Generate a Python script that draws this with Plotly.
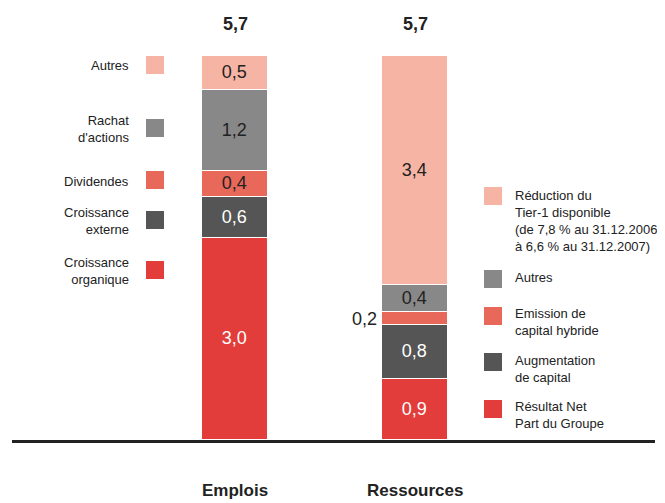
import plotly.graph_objects as go

categories = ["Emplois", "Ressources"]
emplois = [3.0, 0.6, 0.4, 1.2, 0.5]
ressources = [0.9, 0.8, 0.2, 0.4, 3.4]
totals = [5.7, 5.7]
layer_colors = ["#E23D3A", "#545554", "#E8685A", "#888888", "#F6B5A4"]
text_colors = ["white", "white", "#222222", "#222222", "#222222"]
emplois_labels = [["Croissance", "organique"], ["Croissance", "externe"], ["Dividendes"],
                  ["Rachat", "d'actions"], ["Autres"]]
ressources_labels = [["Résultat Net", "Part du Groupe"], ["Augmentation", "de capital"],
                     ["Emission de", "capital hybride"], ["Autres"],
                     ["Réduction du", "Tier-1 disponible", "(de 7,8 % au 31.12.2006",
                      "à 6,6 % au 31.12.2007)"]]

FONT = "Liberation Sans, Arial, Helvetica, sans-serif"
# page body has an 8px margin: figure drawn from (8, 8)
OFF = 8
W, H = 665 - OFF, 503 - OFF
PLOT_L, PLOT_R, PLOT_T, PLOT_B = 12, 655, 56, 440  # plot area in page pixels
L, R, T, B = PLOT_L - OFF, 665 - PLOT_R, PLOT_T - OFF, 503 - PLOT_B
PW, PH = PLOT_R - PLOT_L, PLOT_B - PLOT_T


def px(xp):
    return (xp - PLOT_L) / PW


def py(yp):
    return (PLOT_B - yp) / PH


def fmt(v):
    return f"{v:.1f}".replace(".", ",")


fig = go.Figure()
for i in range(5):
    vals = [emplois[i], ressources[i]]
    texts = [fmt(v) if v >= 0.3 else "" for v in vals]
    fig.add_trace(go.Bar(
        x=categories, y=vals, text=texts, textposition="inside",
        insidetextanchor="middle", textangle=0,
        textfont=dict(color=text_colors[i], size=18, family=FONT),
        marker=dict(color=layer_colors[i], line=dict(color="white", width=1.5)),
        width=0.367, showlegend=False, hoverinfo="skip", cliponaxis=False,
    ))

annotations = []
for c, t in zip(categories, totals):
    annotations.append(dict(x=c, y=t, xref="x", yref="y", text=f"<b>{fmt(t)}</b>",
                            showarrow=False, yshift=32, font=dict(size=18, family=FONT, color="#222")))
    annotations.append(dict(x=c, y=py(502), xref="x", yref="paper", text=f"<b>{c}</b>",
                            showarrow=False, yanchor="bottom",
                            font=dict(size=17, family=FONT, color="#222")))

for i, v in enumerate(ressources):
    if v < 0.3:
        mid = sum(ressources[:i]) + v / 2
        annotations.append(dict(x=categories[1], y=mid, xref="x", yref="y", text=fmt(v),
                                showarrow=False, xanchor="right", xshift=-36,
                                font=dict(size=18, family=FONT, color="#222")))

shapes = []
left_sq_y = [270, 220, 180, 128, 65]
for i in range(5):
    yc = left_sq_y[i]
    shapes.append(dict(type="rect", xref="paper", yref="paper",
                       x0=px(146), x1=px(164), y0=py(yc + 9), y1=py(yc - 9),
                       fillcolor=layer_colors[i], line=dict(width=0)))
    annotations.append(dict(x=px(131), y=py(yc + 1), xref="paper", yref="paper",
                            text="<br>".join(emplois_labels[i]), showarrow=False,
                            xanchor="right", yanchor="middle", align="right",
                            font=dict(size=13, family=FONT, color="#222")))

right_sq_y = [409, 362, 316, 279, 196]
right_text_y = [415, 369, 322, 277, 221]
for i in range(5):
    yc = right_sq_y[i]
    shapes.append(dict(type="rect", xref="paper", yref="paper",
                       x0=px(484), x1=px(502), y0=py(yc + 9), y1=py(yc - 9),
                       fillcolor=layer_colors[i], line=dict(width=0)))
    annotations.append(dict(x=px(513), y=py(right_text_y[i]), xref="paper", yref="paper",
                            text="<br>".join(ressources_labels[i]), showarrow=False,
                            xanchor="left", yanchor="middle", align="left",
                            font=dict(size=13, family=FONT, color="#222")))

fig.update_layout(
    width=W, height=H, margin=dict(l=L, r=R, t=T, b=B),
    barmode="stack", bargap=0, separators=", ",
    plot_bgcolor="white", paper_bgcolor="white",
    xaxis=dict(range=[-1.239, 2.333], showticklabels=False, ticks="",
               showgrid=False, zeroline=False, showline=True,
               linecolor="#222222", linewidth=3),
    yaxis=dict(range=[0, 5.7], visible=False, showgrid=False, zeroline=False),
    annotations=annotations, shapes=shapes,
    font=dict(family=FONT),
)

fig.write_html("out.html")
